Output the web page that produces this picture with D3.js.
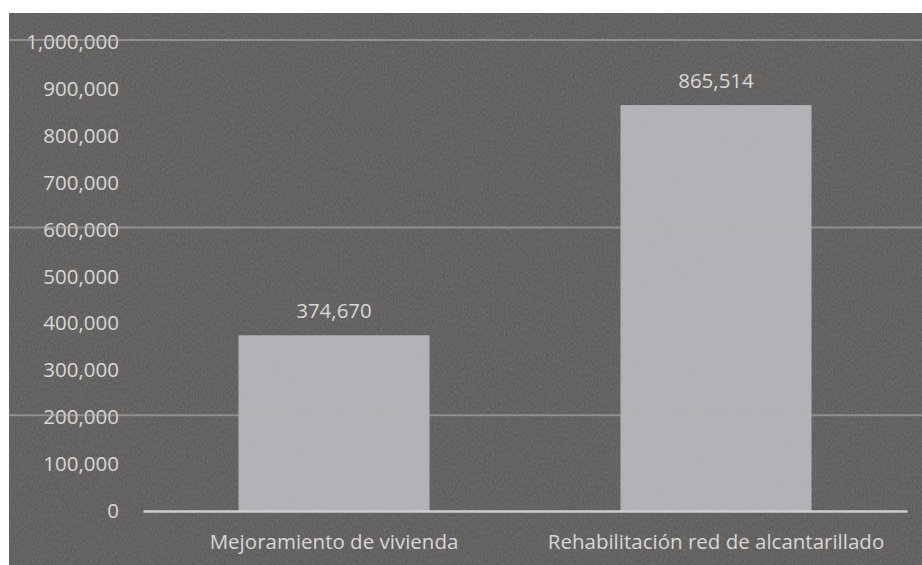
<!DOCTYPE html>
<html>
<head>
<meta charset="utf-8">
<script src="https://cdn.jsdelivr.net/npm/d3@7"></script>
<style>
  html, body { margin: 0; padding: 0; background: #ffffff; }
  svg { display: block; }
</style>
</head>
<body>
<svg id="chart" width="922" height="565"></svg>
<script>
// Inversión por proyecto
const categories = ["Mejoramiento de vivienda", "Rehabilitación red de alcantarillado"];
const values = [374670, 865514];
const tickValues = [0, 100000, 200000, 300000, 400000, 500000, 600000, 700000, 800000, 900000, 1000000];
const ruledTicks = [200000, 600000, 1000000];

const W = 922, H = 565;
const panel = { x: 9, y: 13 };
const margin = { top: 42, right: 15, bottom: 54, left: 143 };

const svg = d3.select("#chart");
const fmt = d3.format(",");
const font = "'Open Sans', 'Noto Sans', sans-serif";
const fontSize = 20.5;

// paper grain
const defs = svg.append("defs");
const grain = defs.append("filter").attr("id", "grain")
  .attr("x", 0).attr("y", 0).attr("width", "100%").attr("height", "100%");
grain.append("feTurbulence")
  .attr("type", "fractalNoise")
  .attr("baseFrequency", "0.9 0.35")
  .attr("numOctaves", 2)
  .attr("seed", 7)
  .attr("result", "noise");
grain.append("feColorMatrix")
  .attr("in", "noise")
  .attr("type", "matrix")
  .attr("values", "0 0 0 0 0.5  0 0 0 0 0.5  0 0 0 0 0.5  0 0 0 0.9 -0.25");

// dark panel
svg.append("rect")
  .attr("x", panel.x).attr("y", panel.y)
  .attr("width", W - panel.x).attr("height", H - panel.y)
  .attr("fill", "#5f5d5c");

const x = d3.scaleBand()
  .domain(categories)
  .range([margin.left, W - margin.right])
  .paddingInner(0.5)
  .paddingOuter(0.25);

const y = d3.scaleLinear()
  .domain([0, 1000000])
  .range([H - margin.bottom, margin.top]);

// y axis labels
const yAxis = d3.axisLeft(y)
  .tickValues(tickValues)
  .tickFormat(fmt)
  .tickSize(0)
  .tickPadding(0);

const gy = svg.append("g")
  .attr("transform", `translate(119,0)`)
  .call(yAxis);
gy.select(".domain").remove();
gy.selectAll("text")
  .attr("fill", "#d9d9d9")
  .attr("font-family", font)
  .attr("font-size", fontSize);

// bars
svg.append("g")
  .selectAll("rect")
  .data(values)
  .join("rect")
  .attr("x", (d, i) => x(categories[i]))
  .attr("y", d => y(d))
  .attr("width", x.bandwidth())
  .attr("height", d => y(0) - y(d))
  .attr("fill", "#b0b2b5");

// value labels
svg.append("g")
  .selectAll("text")
  .data(values)
  .join("text")
  .attr("x", (d, i) => x(categories[i]) + x.bandwidth() / 2)
  .attr("y", d => y(d) - 17)
  .attr("text-anchor", "middle")
  .attr("fill", "#d9d9d9")
  .attr("font-family", font)
  .attr("font-size", fontSize)
  .text(d => fmt(d));

// faint horizontal rules
svg.append("g")
  .selectAll("line")
  .data(ruledTicks)
  .join("line")
  .attr("x1", panel.x).attr("x2", W)
  .attr("y1", d => y(d) - 2).attr("y2", d => y(d) - 2)
  .attr("stroke", "#b4b4b4")
  .attr("stroke-opacity", 0.55)
  .attr("stroke-width", 2);

// x axis
const xAxis = d3.axisBottom(x).tickSize(0).tickPadding(23);
const gx = svg.append("g")
  .attr("transform", `translate(0,${y(0)})`)
  .call(xAxis);
gx.select(".domain")
  .attr("stroke", "#cfcfcf")
  .attr("stroke-width", 2.5);
gx.selectAll("text")
  .attr("fill", "#d9d9d9")
  .attr("font-family", font)
  .attr("font-size", fontSize);

// grain over the whole panel
svg.append("rect")
  .attr("x", panel.x).attr("y", panel.y)
  .attr("width", W - panel.x).attr("height", H - panel.y)
  .attr("filter", "url(#grain)")
  .attr("opacity", 0.35)
  .style("pointer-events", "none");
</script>
</body>
</html>
